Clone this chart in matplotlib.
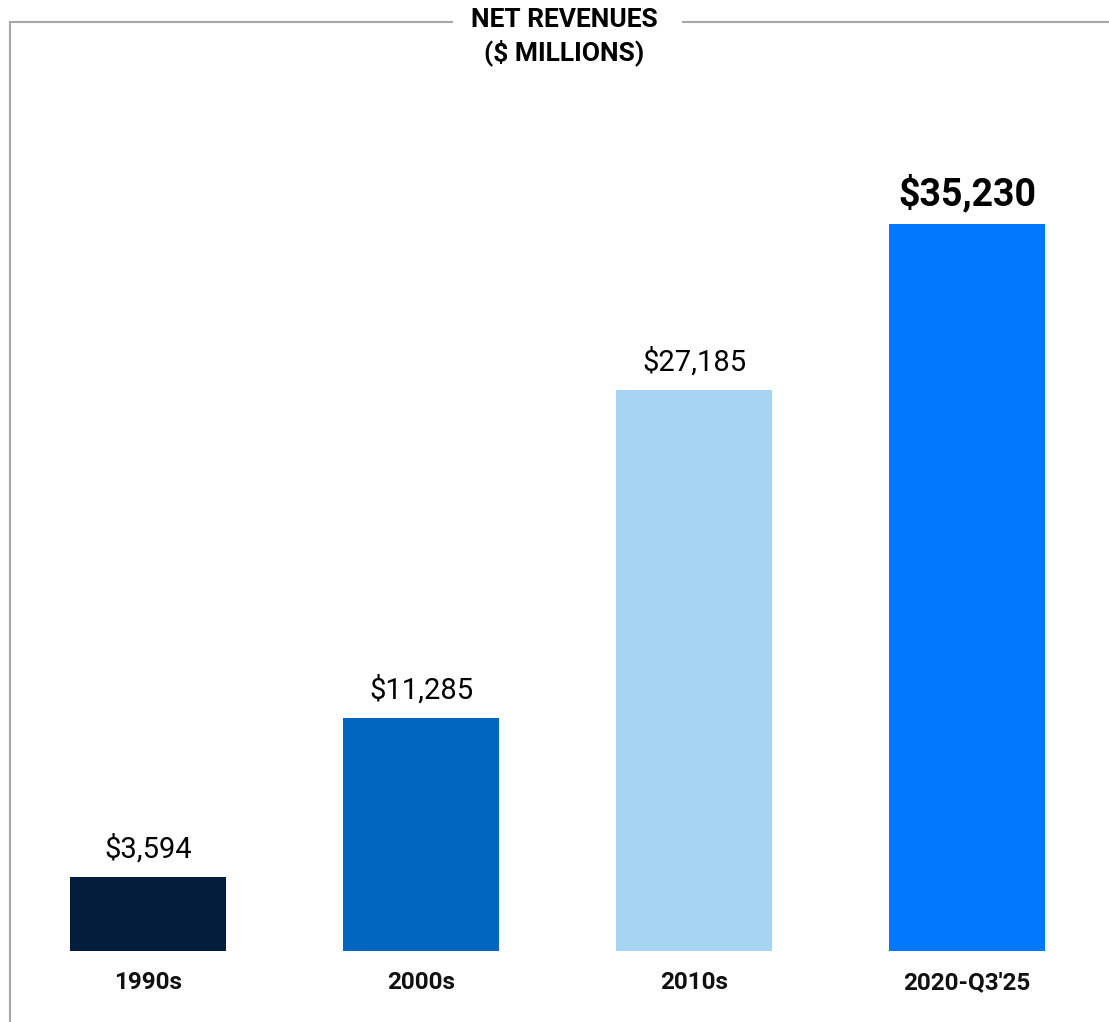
import matplotlib.pyplot as plt
from matplotlib.lines import Line2D

# Datos
categories = ['1990s', '2000s', '2010s', "2020-Q3'25"]
revenues = [3594, 11285, 27185, 35230]
value_labels = ['$3,594', '$11,285', '$27,185', '$35,230']
colors = ['#051D3D', '#0066C0', '#A5D5F2', '#0077FF']

plt.rcParams['font.family'] = ['Roboto', 'DejaVu Sans']

W, H = 1109, 1022
fig = plt.figure(figsize=(W / 100, H / 100), dpi=100)

# Ejes que ocupan el marco (borde izquierdo en x=10 px, arriba en y=22 px)
ax = fig.add_axes([10 / W, 0, 1 - 10 / W, (H - 22) / H])
ax.bar(range(len(categories)), revenues, width=0.571, color=colors)
ax.set_xlim(-0.5055, 3.52)
ax.set_ylim(-3441, 45018)

for s in ['top', 'right', 'bottom']:
    ax.spines[s].set_visible(False)
ax.spines['left'].set_color('#A6A6A6')
ax.spines['left'].set_linewidth(1.5)
ax.set_xticks([])
ax.set_yticks([])

# Etiquetas de valor
for i, (v, lab) in enumerate(zip(revenues, value_labels)):
    last = i == len(revenues) - 1
    ax.annotate(lab, (i, v), xytext=(0, 9.5 if not last else 8), textcoords='offset points',
                ha='center', va='bottom',
                fontsize=27 if last else 21,
                fontweight='bold' if last else 'normal', color='#000000')

# Etiquetas de categoría
for i, c in enumerate(categories):
    ax.text(i, -1550, c, ha='center', va='center', fontsize=17.5,
            fontweight='bold', color='#111111')

# Título y línea superior partida
fig.text(564 / W, 1 - 37 / H, 'NET REVENUES\n($ MILLIONS)', ha='center', va='center',
         fontsize=19, fontweight='bold', linespacing=1.3)
fig.add_artist(Line2D([10 / W, 452 / W], [1 - 22 / H] * 2, color='#A6A6A6', lw=1.5))
fig.add_artist(Line2D([683 / W, 1.0], [1 - 22 / H] * 2, color='#A6A6A6', lw=1.5))

fig.savefig('out.png', dpi=100)
